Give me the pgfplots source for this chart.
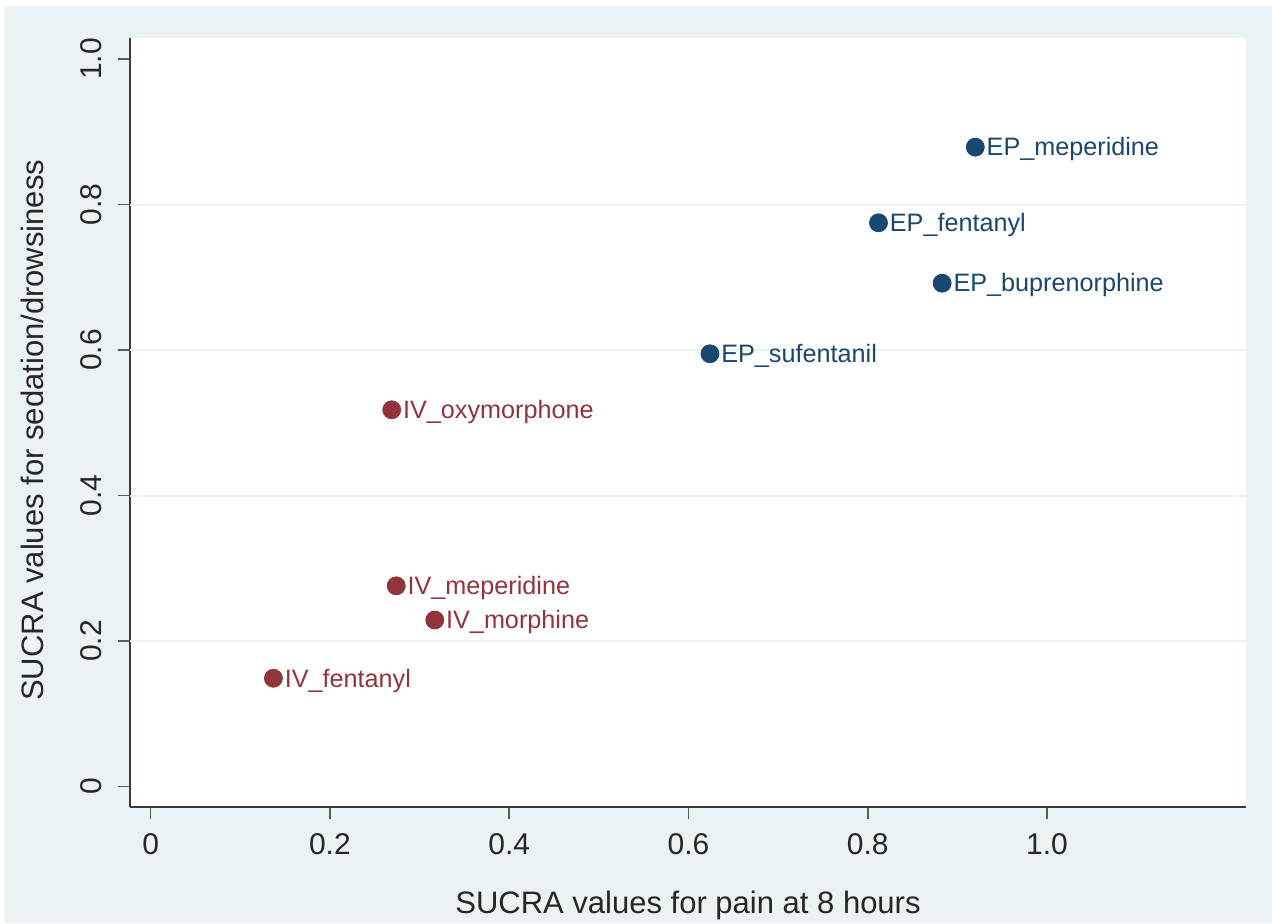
\documentclass[border=0pt]{standalone}
\usepackage{pgfplots}
\pgfplotsset{compat=1.18}
\usepackage{fontspec}
\setmainfont{Liberation Sans}
\definecolor{bgcol}{HTML}{EAF2F3}
\definecolor{navy}{HTML}{1A476F}
\definecolor{maroon}{HTML}{90353B}
\definecolor{axcol}{HTML}{3A3A3A}
\definecolor{tickcol}{HTML}{5A5A5A}

\begin{document}
\begin{tikzpicture}
    % page background (white strip top/left like the screenshot)
    \fill[white] (0,0) rectangle (636pt,461.5pt);
    \fill[bgcol] (2.5pt,0) rectangle (636pt,458.5pt);

    \begin{axis}[
        at={(65pt,58pt)}, anchor=south west,
        scale only axis,
        width=558pt, height=384.5pt,
        xmin=-0.023, xmax=1.222,
        ymin=-0.028, ymax=1.029,
        axis background/.style={fill=white},
        axis lines*=left,
        axis line style={axcol, line width=0.8pt},
        xtick={0,0.2,0.4,0.6,0.8,1.0},
        xticklabels={0,0.2,0.4,0.6,0.8,1.0},
        ytick={0,0.2,0.4,0.6,0.8,1.0},
        yticklabels={0,0.2,0.4,0.6,0.8,1.0},
        tick align=outside,
        major tick length=6pt,
        tick style={tickcol, line width=0.8pt},
        extra y ticks={0.2,0.4,0.6,0.8},
        extra y tick labels={},
        extra y tick style={grid=major, major tick length=0pt,
            grid style={bgcol, line width=1pt}},
        tick label style={font=\fontsize{15}{18}\selectfont, text=black!85},
        xticklabel style={anchor=north, inner sep=0pt, yshift=-7pt},
        yticklabel style={rotate=90, anchor=base, inner sep=0pt, yshift=8pt},
        xlabel={SUCRA values for pain at 8 hours},
        ylabel={SUCRA values for sedation/drowsiness},
        label style={font=\fontsize{15.5}{18}\selectfont, text=black!85},
        xlabel style={at={(axis description cs:0.5,0)}, anchor=base, yshift=-53pt},
        ylabel style={at={(axis description cs:0,0.49)}, anchor=base, yshift=43.5pt},
        clip=false,
    ]

    % epidural
    \addplot[only marks, mark=*, mark size=4.5pt, color=navy,
        nodes near coords, point meta=explicit symbolic,
        nodes near coords align=horizontal,
        every node near coord/.append style={anchor=base west, inner sep=0pt,
            xshift=5.5pt, yshift=-4.4pt, text=navy,
            font=\fontsize{12.6}{14}\selectfont}]
    coordinates {
        (0.920,0.879) [EP\_meperidine]
        (0.812,0.775) [EP\_fentanyl]
        (0.883,0.692) [EP\_buprenorphine]
        (0.624,0.595) [EP\_sufentanil]
    };

    % intravenous
    \addplot[only marks, mark=*, mark size=4.5pt, color=maroon,
        nodes near coords, point meta=explicit symbolic,
        nodes near coords align=horizontal,
        every node near coord/.append style={anchor=base west, inner sep=0pt,
            xshift=5.5pt, yshift=-4.4pt, text=maroon,
            font=\fontsize{12.6}{14}\selectfont}]
    coordinates {
        (0.269,0.518) [IV\_oxymorphone]
        (0.274,0.276) [IV\_meperidine]
        (0.317,0.229) [IV\_morphine]
        (0.137,0.149) [IV\_fentanyl]
    };
    \end{axis}
    \pgfresetboundingbox
    \path (0,0) rectangle (636pt,461.5pt);
\end{tikzpicture}
\end{document}
